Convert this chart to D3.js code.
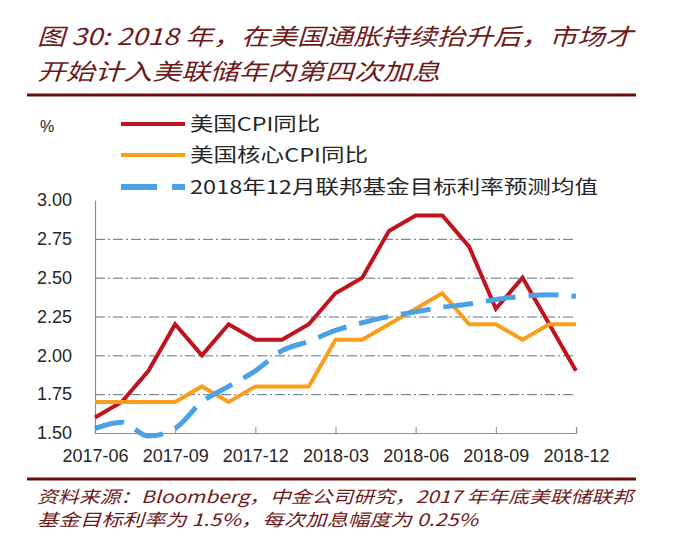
<!DOCTYPE html>
<html>
<head>
<meta charset="utf-8">
<script src="https://cdn.jsdelivr.net/npm/d3@7"></script>
<style>
  html, body { margin: 0; padding: 0; background: #fff; }
  svg { display: block; }
</style>
</head>
<body>
<svg id="chart" width="687" height="555"></svg>
<script>
// ---- data ----
const months = ["2017-06","2017-07","2017-08","2017-09","2017-10","2017-11","2017-12",
  "2018-01","2018-02","2018-03","2018-04","2018-05","2018-06","2018-07","2018-08",
  "2018-09","2018-10","2018-11","2018-12"];
const cpi = [1.6,1.7,1.9,2.2,2.0,2.2,2.1,2.1,2.2,2.4,2.5,2.8,2.9,2.9,2.7,2.3,2.5,2.2,1.9];
const coreCpi = [1.7,1.7,1.7,1.7,1.8,1.7,1.8,1.8,1.8,2.1,2.1,2.2,2.3,2.4,2.2,2.2,2.1,2.2,2.2];
const fedExpect = [1.53,1.57,1.48,1.53,1.70,1.80,1.90,2.03,2.09,2.16,2.21,2.25,2.28,2.31,2.33,2.36,2.38,2.39,2.38];
const xTickLabels = ["2017-06","2017-09","2017-12","2018-03","2018-06","2018-09","2018-12"];
const yTicks = [1.50,1.75,2.00,2.25,2.50,2.75,3.00];
const seriesNames = ["美国CPI同比","美国核心CPI同比","2018年12月联邦基金目标利率预测均值"];
const titleLines = ["图 30: 2018 年，在美国通胀持续抬升后，市场才","开始计入美联储年内第四次加息"];
const noteLines = ["资料来源：Bloomberg，中金公司研究，2017 年年底美联储联邦","基金目标利率为 1.5%，每次加息幅度为 0.25%"];

// ---- layout ----
const svg = d3.select("#chart");
const X0 = 95, X1 = 576, Y0 = 433, Y1 = 200;
const x = d3.scaleLinear().domain([0, months.length - 1]).range([X0, X1]);
const y = d3.scaleLinear().domain([1.5, 3.0]).range([Y0, Y1]);

const red = "#c0141c", orange = "#f99d1c", blue = "#4ca0e6";
const maroon = "#6e1a1a";
const cjk = "'Noto Sans CJK SC','Noto Sans',sans-serif";
const latin = "'Liberation Sans',Arial,'Noto Sans CJK SC',sans-serif";

// title
const titleWidths = [596, 403];
titleLines.forEach((t, i) => {
  svg.append("text")
    .attr("x", 37).attr("y", 45 + i * 35)
    .attr("font-family", cjk).attr("font-style", "italic")
    .attr("font-size", 23).attr("fill", maroon)
    .attr("textLength", titleWidths[i]).attr("lengthAdjust", "spacingAndGlyphs")
    .text(t);
});
svg.append("line").attr("x1", 27).attr("x2", 636).attr("y1", 95).attr("y2", 95)
  .attr("stroke", "#6b0e0e").attr("stroke-width", 3);

// % label
svg.append("text").attr("x", 40).attr("y", 132).attr("font-family", latin)
  .attr("font-size", 16).attr("fill", "#262626").text("%");

// gridlines
const grid = svg.append("g").attr("transform", `translate(${X0},0)`)
  .call(d3.axisLeft(y).tickValues(yTicks.filter(v => v > 1.5 && v < 3)).tickSize(-(X1 - X0)).tickFormat(""));
grid.select(".domain").remove();
grid.selectAll("line").attr("stroke", "#5d7090").attr("stroke-width", 1)
  .attr("stroke-dasharray", "10,3,2,3");

// y axis
const ya = svg.append("g").attr("transform", `translate(${X0},0)`)
  .call(d3.axisLeft(y).tickValues(yTicks).tickSize(0).tickPadding(23).tickFormat(d3.format(".2f")));
ya.select(".domain").attr("stroke", "#8c8c8c").attr("stroke-width", 1.2);
ya.selectAll("text").attr("font-family", latin).attr("font-size", 18).attr("fill", "#262626");

// x axis
const xa = svg.append("g").attr("transform", `translate(0,${Y0})`)
  .call(d3.axisBottom(x).tickValues(d3.range(0, months.length, 3)).tickSize(-6).tickPadding(0)
    .tickFormat((d, i) => xTickLabels[i]));
xa.select(".domain").attr("stroke", "#8c8c8c").attr("stroke-width", 1.2);
xa.selectAll(".tick line").attr("stroke", "#8c8c8c");
xa.selectAll("text").attr("font-family", latin).attr("font-size", 18).attr("fill", "#262626")
  .attr("y", 29).attr("dy", 0);

// lines
const line = d3.line().x((d, i) => x(i)).y(d => y(d));
svg.append("path").datum(cpi).attr("d", line).attr("fill", "none")
  .attr("stroke", red).attr("stroke-width", 4);
svg.append("path").datum(coreCpi).attr("d", line).attr("fill", "none")
  .attr("stroke", orange).attr("stroke-width", 4);
svg.append("path").datum(fedExpect).attr("d", d3.line().curve(d3.curveMonotoneX).x((d, i) => x(i)).y(d => y(d)))
  .attr("fill", "none").attr("stroke", blue).attr("stroke-width", 5)
  .attr("stroke-dasharray", "30,13");

// legend
const legColors = [red, orange, blue];
const legY = [124, 155, 187];
const legWidths = [130, 178, 408];
seriesNames.forEach((n, i) => {
  const l = svg.append("line").attr("x1", 121).attr("x2", 185)
    .attr("y1", legY[i]).attr("y2", legY[i]).attr("stroke", legColors[i])
    .attr("stroke-width", i === 2 ? 6 : 4);
  if (i === 2) l.attr("stroke-dasharray", "36,15");
  svg.append("text").attr("x", 190).attr("y", legY[i] + 7)
    .attr("font-family", cjk).attr("font-size", 19).attr("fill", "#262626")
    .attr("textLength", legWidths[i]).attr("lengthAdjust", "spacingAndGlyphs")
    .text(n);
});

// footnote
svg.append("line").attr("x1", 27).attr("x2", 636).attr("y1", 479).attr("y2", 479)
  .attr("stroke", "#6b0e0e").attr("stroke-width", 3);
const noteWidths = [596, 441];
noteLines.forEach((t, i) => {
  svg.append("text").attr("x", 37).attr("y", 503 + i * 23)
    .attr("font-family", cjk).attr("font-style", "italic")
    .attr("font-size", 17).attr("fill", maroon)
    .attr("textLength", noteWidths[i]).attr("lengthAdjust", "spacingAndGlyphs")
    .text(t);
});
</script>
</body>
</html>
